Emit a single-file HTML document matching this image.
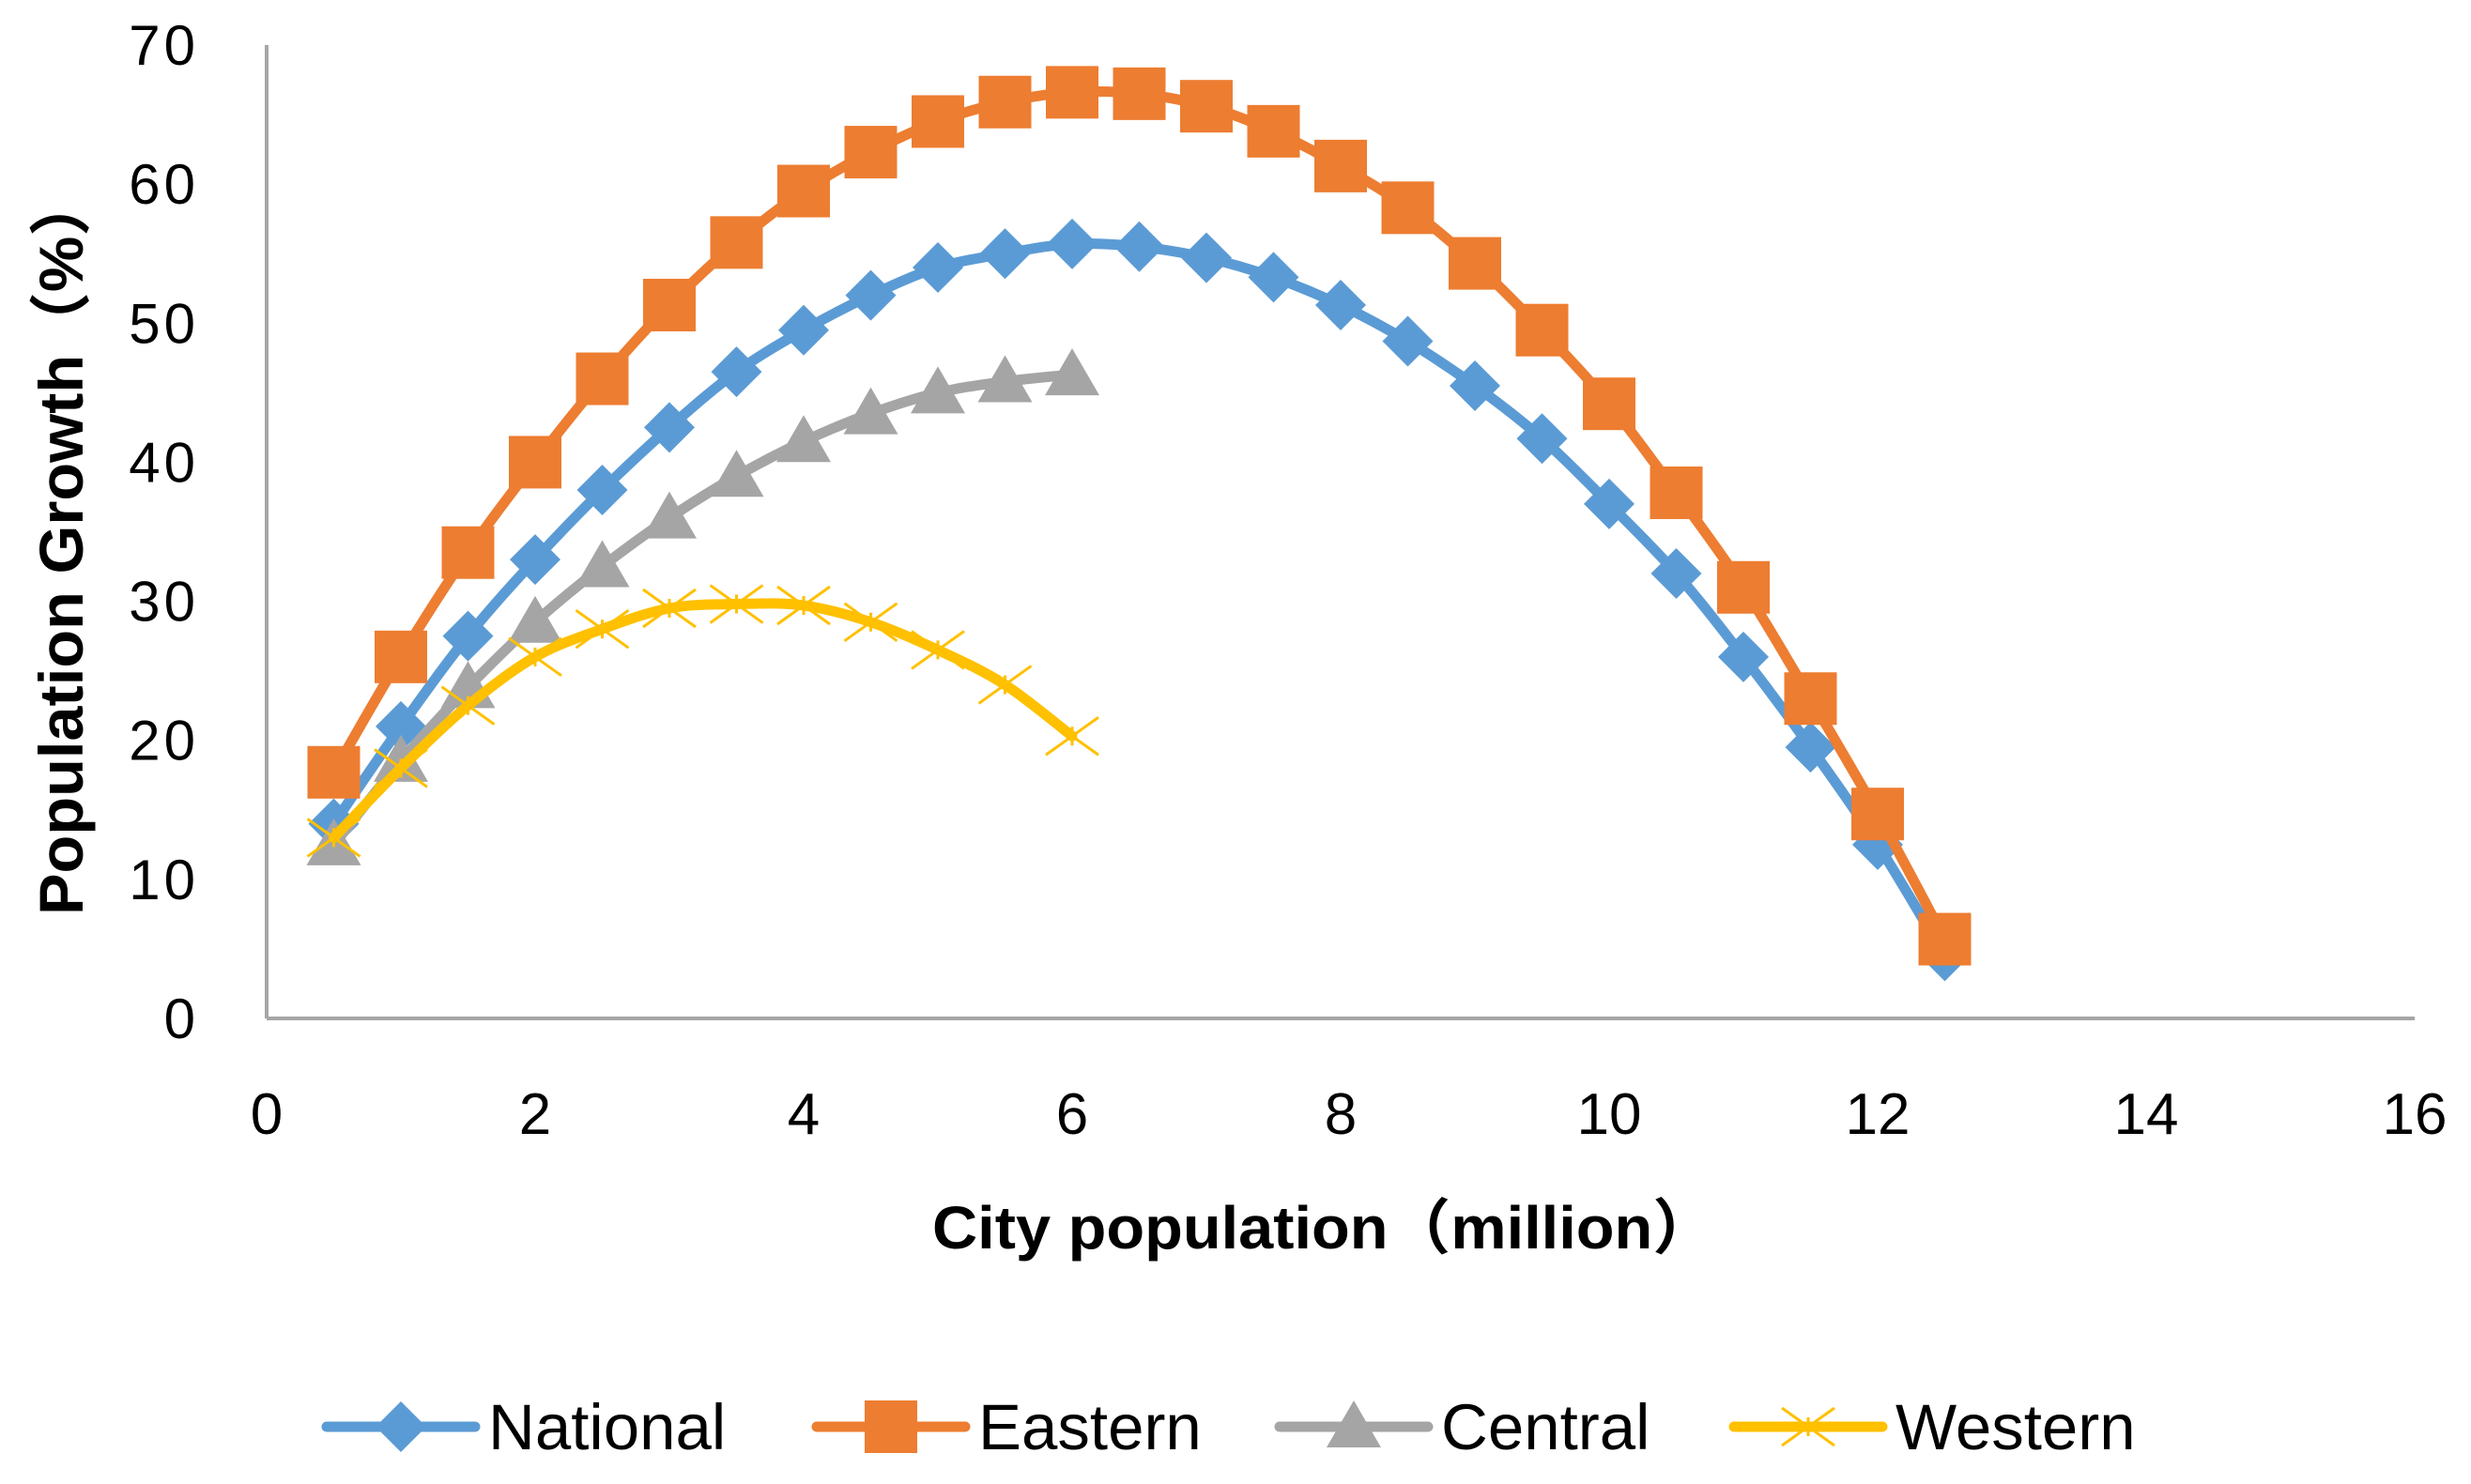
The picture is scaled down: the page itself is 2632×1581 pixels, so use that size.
<!DOCTYPE html>
<html><head><meta charset="utf-8"><style>
html,body{margin:0;padding:0;background:#fff;}
svg{display:block;}
text{font-family:"Liberation Sans","Noto Sans CJK SC",sans-serif;}
</style></head><body>
<svg id="chart" width="2632" height="1581" viewBox="0 0 2632 1581" xmlns="http://www.w3.org/2000/svg">
<rect width="2632" height="1581" fill="#fff"/>
<g id="axes"></g>
<g id="series"></g>
<text transform="translate(88,580) rotate(-90)" text-anchor="middle" font-size="66" font-weight="bold" fill="#000" textLength="790" lengthAdjust="spacingAndGlyphs">Population Growth（%）</text>
<text x="1410" y="1330" text-anchor="middle" font-size="64" font-weight="bold" fill="#000" textLength="834" lengthAdjust="spacingAndGlyphs">City population（million）</text>
<g id="legend"></g>
</svg>
<script>
const xs = [0.5,1,1.5,2,2.5,3,3.5,4,4.5,5,5.5,6,6.5,7,7.5,8,8.5,9,9.5,10,10.5,11,11.5,12,12.5];
const nationalValues = [14,21,27.5,33,38,42.5,46.5,49.5,52,54,55,55.7,55.5,54.7,53.3,51.3,48.7,45.5,41.7,37,32,26,19.5,12.5,4.5];
const easternValues = [17.7,26,33.5,40,46,51.3,55.8,59.5,62.3,64.5,65.9,66.6,66.5,65.6,63.8,61.3,58.3,54.3,49.5,44.2,37.8,31,23,14.7,5.7];
const centralValues = [12.5,18.5,23.8,28.5,32.5,36,39,41.5,43.5,45,45.8,46.3];
const westernValues = [13,18,22.5,26,28,29.5,29.8,29.7,28.5,26.5,24,20.3];
const xTicks = [0,2,4,6,8,10,12,14,16];
const yTicks = [0,10,20,30,40,50,60,70];
const seriesNames = ["National","Eastern","Central","Western"];

const NS="http://www.w3.org/2000/svg";
const X0=284,X1=2572,Y0=1085,Y1=48;
function sx(v){return X0+(v-0)/(16-0)*(X1-X0);}
function sy(v){return Y0-(v-0)/(70-0)*(Y0-Y1);}
function mk(tag,attrs,parent){const e=document.createElementNS(NS,tag);for(const k in attrs)e.setAttribute(k,attrs[k]);parent.appendChild(e);return e;}

const axes=document.getElementById('axes');
let a=mk('line',{x1:X0,y1:Y1,x2:X0,y2:Y0,stroke:'#a6a6a6','stroke-width':4},axes);


a=mk('line',{x1:X0,y1:Y0,x2:X1,y2:Y0,stroke:'#a6a6a6','stroke-width':4},axes);


yTicks.forEach(t=>{const e=mk('text',{x:212,y:sy(t)+21,'text-anchor':'end','font-size':'60',fill:'#000','letter-spacing':'4'},axes);e.textContent=t;

});
xTicks.forEach(t=>{const e=mk('text',{x:sx(t),y:1208,'text-anchor':'middle','font-size':'62',fill:'#000'},axes);e.textContent=t;

});

function smoothPath(pts){let d=`M${pts[0][0]},${pts[0][1]}`;
for(let i=0;i<pts.length-1;i++){const p0=pts[i-1]||pts[i],p1=pts[i],p2=pts[i+1],p3=pts[i+2]||p2;
const c1=[p1[0]+(p2[0]-p0[0])/6,p1[1]+(p2[1]-p0[1])/6],c2=[p2[0]-(p3[0]-p1[0])/6,p2[1]-(p3[1]-p1[1])/6];
d+=` C${c1[0]},${c1[1]} ${c2[0]},${c2[1]} ${p2[0]},${p2[1]}`;}return d;}

function marker(type,x,y,color,g){
 if(type==='diamond') return mk('polygon',{points:`${x},${y-27} ${x+27},${y} ${x},${y+27} ${x-27},${y}`,fill:color},g);
 if(type==='square') return mk('rect',{x:x-28,y:y-28,width:56,height:56,fill:color},g);
 if(type==='triangle') return mk('polygon',{points:`${x},${y-28} ${x+29},${y+22} ${x-29},${y+22}`,fill:color},g);
 return mk('path',{d:`M${x-28},${y-20}L${x+28},${y+20}M${x-28},${y+20}L${x+28},${y-20}M${x},${y-10}L${x},${y+10}`,stroke:color,'stroke-width':3,fill:'none'},g);
}
const series=[[nationalValues,'#5b9bd5','diamond'],[easternValues,'#ed7d31','square'],[centralValues,'#a5a5a5','triangle'],[westernValues,'#ffc000','x']];
const sg=document.getElementById('series');
series.forEach((s,i)=>{
 const g=mk('g',{},sg);
 
 
 const pts=s[0].map((v,j)=>[sx(xs[j]),sy(v)]);
 const p=mk('path',{d:smoothPath(pts),fill:'none',stroke:s[1],'stroke-width':11,'stroke-linejoin':'round','stroke-linecap':'round'},g);
 
 
 pts.forEach(pt=>{const m=marker(s[2],pt[0],pt[1],s[1],g);
 
 });
});

const lg=document.getElementById('legend');
const lx=[348,870,1363,1847];
series.forEach((s,i)=>{
 const g=mk('g',{},lg);
 
 
 const y=1520;
 mk('line',{x1:lx[i],y1:y,x2:lx[i]+158,y2:y,stroke:s[1],'stroke-width':11,'stroke-linecap':'round'},g);
 marker(s[2],lx[i]+79,y,s[1],g);
 const t=mk('text',{x:lx[i]+172,y:y+24,'font-size':'69',fill:'#000'},g);t.textContent=seriesNames[i];
});
</script>
</body></html>
